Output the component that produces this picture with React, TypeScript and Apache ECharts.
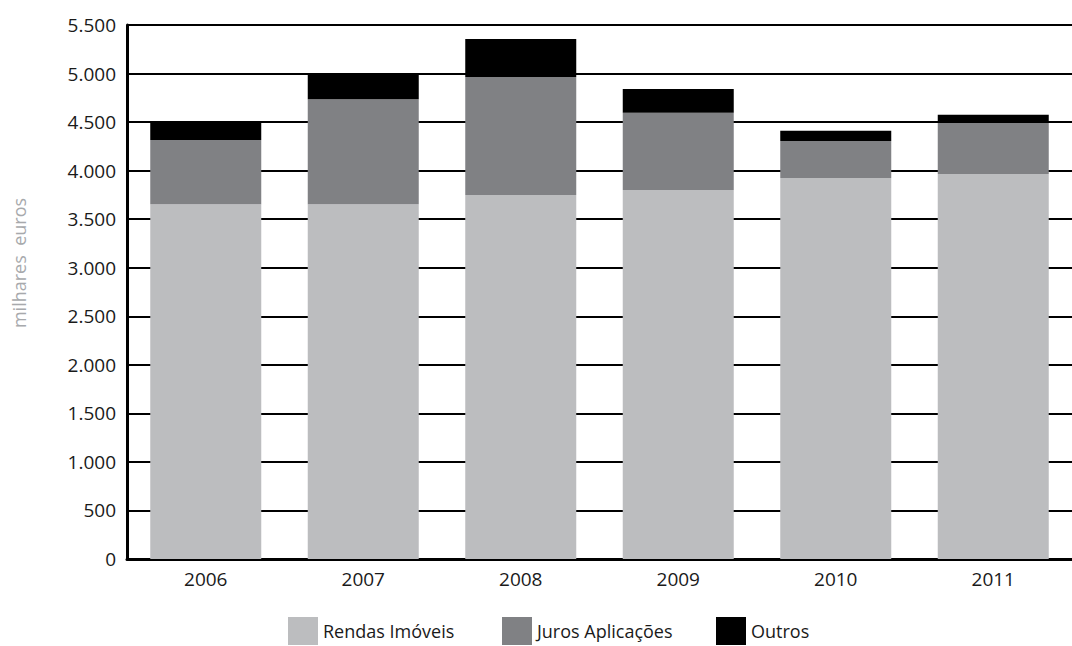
import React, { useEffect, useRef } from "react";
import * as echarts from "echarts";

// Categories and stacked series values (thousand euros)
const years = ["2006", "2007", "2008", "2009", "2010", "2011"];
const rendasImoveis = [3655, 3655, 3750, 3800, 3925, 3965];
const jurosAplicacoes = [660, 1080, 1215, 795, 380, 525];
const outros = [180, 265, 390, 245, 105, 85];

const seriesNames = ["Rendas Imóveis", "Juros Aplicações", "Outros"];
const seriesColors = ["#bcbdbf", "#808184", "#000000"];
const legendLefts = [288, 502, 716];
const unitLabel = "milhares  euros";

const FONT = "'Open Sans', 'Noto Sans', sans-serif";
const TEXT_COLOR = "#1a1a1a";

// Portuguese-style thousands separator: 5500 -> "5.500"
const formatThousands = (v: number) =>
  String(Math.round(v)).replace(/\B(?=(\d{3})+(?!\d))/g, ".");

export default function App() {
  const ref = useRef<HTMLDivElement>(null);

  useEffect(() => {
    if (!ref.current) return;
    const chart = echarts.init(ref.current, undefined, { renderer: "svg" });

    const values = [rendasImoveis, jurosAplicacoes, outros];

    chart.setOption({
      animation: false,
      backgroundColor: "#ffffff",
      textStyle: { fontFamily: FONT },
      grid: {
        left: 127,
        right: 0,
        top: 25,
        bottom: 87,
        containLabel: false,
        outerBoundsMode: "none",
      },
      // Vertical unit label to the left of the value axis
      graphic: [
        {
          type: "text",
          x: 19,
          y: 263,
          rotation: Math.PI / 2,
          style: {
            text: unitLabel,
            fontFamily: FONT,
            fontSize: 18,
            fill: "#a7a9ac",
            align: "center",
            verticalAlign: "middle",
          },
        },
      ],
      legend: seriesNames.map((name, i) => ({
        data: [name],
        left: legendLefts[i],
        top: 617,
        padding: 0,
        itemWidth: 30,
        itemHeight: 28,
        icon: "rect",
        selectedMode: false,
        textStyle: {
          fontFamily: FONT,
          fontSize: 18,
          color: TEXT_COLOR,
          padding: [2, 0, 0, 0],
        },
      })),
      xAxis: {
        type: "category",
        data: years,
        axisLine: { show: true, lineStyle: { color: "#000", width: 3 } },
        axisTick: { show: false },
        axisLabel: { fontFamily: FONT, fontSize: 19, color: TEXT_COLOR, margin: 10 },
      },
      yAxis: {
        type: "value",
        min: 0,
        max: 5500,
        interval: 500,
        axisLine: { show: true, lineStyle: { color: "#000", width: 3 } },
        axisTick: { show: false },
        axisLabel: {
          fontFamily: FONT,
          fontSize: 19,
          color: TEXT_COLOR,
          margin: 11,
          formatter: (v: number) => formatThousands(v),
        },
        splitLine: { show: true, lineStyle: { color: "#000", width: 2 } },
      },
      series: seriesNames.map((name, i) => ({
        name,
        type: "bar",
        stack: "total",
        barWidth: 111,
        data: values[i],
        itemStyle: { color: seriesColors[i] },
      })),
    });

    return () => chart.dispose();
  }, []);

  return (
    <div
      ref={ref}
      style={{ position: "fixed", left: 0, top: 0, width: 1072, height: 646 }}
    />
  );
}
